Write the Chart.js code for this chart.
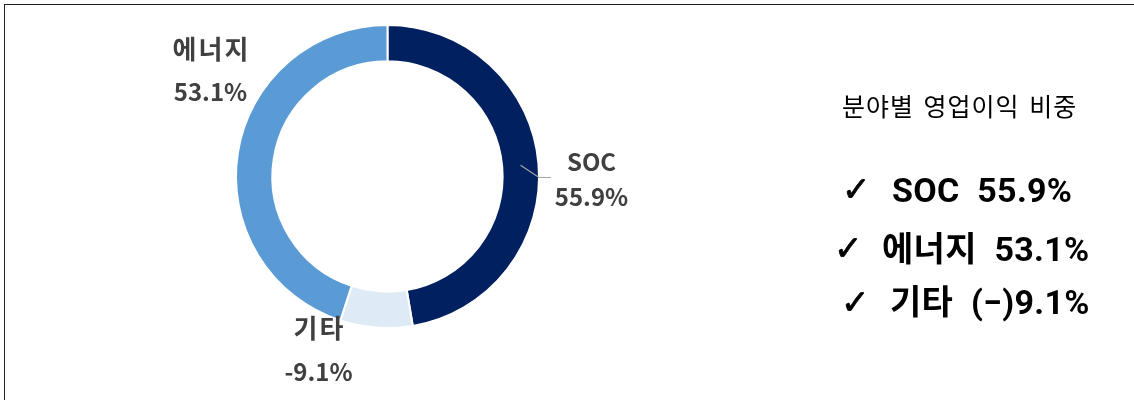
<!DOCTYPE html>
<html><head><meta charset="utf-8">
<script src="https://cdn.jsdelivr.net/npm/chart.js@4/dist/chart.umd.min.js"></script>
<style>
html,body{margin:0;padding:0;background:#fff;}
#wrap{position:relative;width:1134px;height:400px;overflow:hidden;}
#frame{position:absolute;left:4px;top:4px;width:1140px;height:410px;border-top:1.5px solid #222;border-left:1.5px solid #222;box-sizing:border-box;}
#c{position:absolute;left:0;top:0;}
.side{position:absolute;color:#000;white-space:pre;}
#title{left:842px;top:88px;font-family:"Noto Sans CJK KR",sans-serif;font-size:25px;line-height:34px;letter-spacing:1px;word-spacing:3px;}
.item{font-family:Roboto,"Noto Sans CJK KR",sans-serif;font-weight:bold;font-size:34px;line-height:40px;letter-spacing:0.3px;word-spacing:9px;}
.ck{position:absolute;font-family:"DejaVu Sans",sans-serif;font-weight:normal;font-size:34px;line-height:40px;color:#000;-webkit-text-stroke:0.8px #000;}
</style></head>
<body><div id="wrap"><canvas id="c" width="1134" height="400"></canvas><div id="frame"></div>
<div id="title" class="side">분야별 영업이익 비중</div>
<div class="ck" style="left:842px;top:169px;">✓</div>
<div class="side item" style="left:892px;top:170px;">SOC 55.9%</div>
<div class="ck" style="left:834px;top:228px;">✓</div>
<div class="side item" style="left:882px;top:229px;">에너지 53.1%</div>
<div class="ck" style="left:841px;top:282px;">✓</div>
<div class="side item" style="left:890px;top:282px;">기타 (−)9.1%</div>
</div>
<script>
const categories = ['SOC', '기타', '에너지'];
const shares = [55.9, -9.1, 53.1];
const shareLabels = ['55.9%', '-9.1%', '53.1%'];
const colors = ['#002060', '#DEEBF7', '#5B9BD5'];
// label placement relative to chart centre (layout only): [dx, nameDy, valueDy, nameSize]
const labelPlace = [[204, -15, 20, 24], [-69, 152, 195, 26], [-177, -127, -85, 26]];

const labelPlugin = {
  id: 'sliceLabels',
  afterDatasetsDraw(chart) {
    const ctx = chart.ctx;
    const meta = chart.getDatasetMeta(0);
    ctx.save();
    meta.data.forEach((arc, i) => {
      const cx = arc.x, cy = arc.y;
      const [dx, ndy, vdy, ns] = labelPlace[i];
      ctx.fillStyle = '#404040';
      ctx.textAlign = 'center';
      ctx.textBaseline = 'middle';
      ctx.font = 'bold ' + ns + 'px "Noto Sans CJK KR", sans-serif';
      ctx.letterSpacing = i === 0 ? '0px' : '2px';
      ctx.fillText(categories[i], cx + dx + (i === 0 ? 0 : 1), cy + ndy);
      ctx.letterSpacing = '0px';
      ctx.font = 'bold 24px "Noto Sans CJK KR", sans-serif';
      ctx.fillText(shareLabels[i], cx + dx, cy + vdy);
      if (i === 0) {
        const ang = (arc.startAngle + arc.endAngle) / 2;
        const r = arc.outerRadius;
        const ix = cx + (r - 18) * Math.cos(ang), iy = cy + (r - 18) * Math.sin(ang);
        ctx.strokeStyle = '#A6A6A6';
        ctx.lineWidth = 1.2;
        ctx.beginPath();
        ctx.moveTo(ix, iy);
        ctx.lineTo(cx + r, cy + 1);
        ctx.lineTo(cx + r + 12, cy + 1);
        ctx.stroke();
      }
    });
    ctx.restore();
  }
};

new Chart(document.getElementById('c'), {
  type: 'doughnut',
  data: {
    labels: categories,
    datasets: [{
      data: shares.map(v => Math.abs(v)),
      backgroundColor: colors,
      borderColor: '#ffffff',
      borderWidth: 2
    }]
  },
  options: {
    responsive: false,
    animation: false,
    cutout: '76%',
    layout: { padding: { left: 0, right: 359, top: 24, bottom: 71 } },
    plugins: { legend: { display: false }, tooltip: { enabled: false } }
  },
  plugins: [labelPlugin]
});
</script></body></html>
